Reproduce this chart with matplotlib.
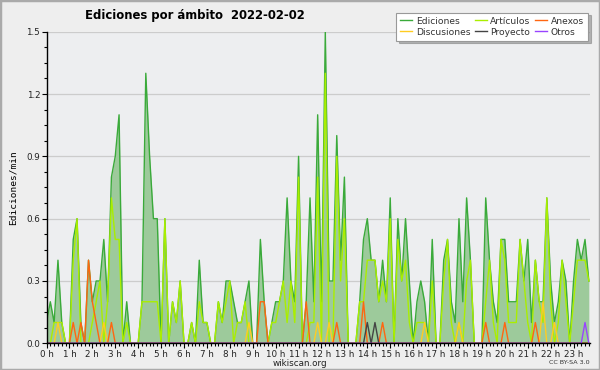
import matplotlib
matplotlib.use("Agg")
import matplotlib.pyplot as plt
from matplotlib.ticker import FixedLocator, MultipleLocator
from matplotlib.patches import Rectangle
import numpy as np

# 10-minute bins over the day (edits per minute)
ediciones = [
    0.1, 0.2, 0.1, 0.4, 0.1, 0.0,
    0.0, 0.5, 0.6, 0.1, 0.0, 0.4,
    0.2, 0.3, 0.3, 0.5, 0.2, 0.8,
    0.9, 1.1, 0.0, 0.2, 0.0, 0.0,
    0.0, 0.2, 1.3, 0.9, 0.6, 0.6,
    0.0, 0.6, 0.0, 0.2, 0.1, 0.3,
    0.0, 0.0, 0.1, 0.0, 0.4, 0.1,
    0.1, 0.0, 0.0, 0.2, 0.1, 0.3,
    0.3, 0.2, 0.1, 0.1, 0.2, 0.3,
    0.0, 0.0, 0.5, 0.2, 0.0, 0.1,
    0.2, 0.2, 0.3, 0.7, 0.3, 0.2,
    0.9, 0.0, 0.2, 0.7, 0.2, 1.1,
    0.2, 1.5, 0.3, 0.3, 1.0, 0.4,
    0.8, 0.0, 0.0, 0.0, 0.2, 0.5,
    0.6, 0.4, 0.4, 0.2, 0.4, 0.2,
    0.7, 0.0, 0.6, 0.3, 0.6, 0.3,
    0.0, 0.2, 0.3, 0.2, 0.0, 0.5,
    0.0, 0.0, 0.4, 0.5, 0.2, 0.1,
    0.6, 0.2, 0.7, 0.4, 0.0, 0.0,
    0.0, 0.7, 0.4, 0.2, 0.1, 0.5,
    0.5, 0.2, 0.2, 0.2, 0.5, 0.3,
    0.5, 0.1, 0.4, 0.2, 0.2, 0.7,
    0.3, 0.1, 0.2, 0.4, 0.3, 0.0,
    0.3, 0.5, 0.4, 0.5, 0.3,
]
articulos = [
    0.0, 0.0, 0.1, 0.1, 0.1, 0.0,
    0.0, 0.4, 0.6, 0.0, 0.0, 0.0,
    0.1, 0.2, 0.3, 0.0, 0.2, 0.7,
    0.5, 0.5, 0.0, 0.1, 0.0, 0.0,
    0.0, 0.2, 0.2, 0.2, 0.2, 0.2,
    0.0, 0.6, 0.0, 0.2, 0.1, 0.3,
    0.0, 0.0, 0.1, 0.0, 0.2, 0.1,
    0.1, 0.0, 0.0, 0.2, 0.1, 0.2,
    0.3, 0.0, 0.1, 0.1, 0.2, 0.0,
    0.0, 0.0, 0.0, 0.0, 0.0, 0.1,
    0.1, 0.2, 0.3, 0.1, 0.3, 0.1,
    0.8, 0.0, 0.0, 0.1, 0.1, 0.8,
    0.0, 1.3, 0.0, 0.0, 0.9, 0.3,
    0.6, 0.0, 0.0, 0.0, 0.2, 0.2,
    0.4, 0.4, 0.4, 0.2, 0.3, 0.2,
    0.6, 0.0, 0.5, 0.3, 0.4, 0.1,
    0.0, 0.1, 0.1, 0.1, 0.0, 0.3,
    0.0, 0.0, 0.3, 0.5, 0.1, 0.0,
    0.1, 0.0, 0.3, 0.4, 0.0, 0.0,
    0.0, 0.2, 0.4, 0.1, 0.0, 0.5,
    0.4, 0.1, 0.1, 0.1, 0.5, 0.3,
    0.1, 0.0, 0.4, 0.2, 0.1, 0.7,
    0.2, 0.0, 0.1, 0.4, 0.2, 0.0,
    0.2, 0.4, 0.4, 0.4, 0.3,
]
anexos = [
    0.0, 0.0, 0.0, 0.0, 0.0, 0.0,
    0.0, 0.1, 0.0, 0.1, 0.0, 0.4,
    0.2, 0.1, 0.0, 0.0, 0.0, 0.1,
    0.0, 0.0, 0.0, 0.0, 0.0, 0.0,
    0.0, 0.0, 0.0, 0.0, 0.0, 0.0,
    0.0, 0.0, 0.0, 0.0, 0.0, 0.0,
    0.0, 0.0, 0.0, 0.0, 0.0, 0.0,
    0.0, 0.0, 0.0, 0.0, 0.0, 0.0,
    0.0, 0.0, 0.0, 0.0, 0.0, 0.0,
    0.0, 0.0, 0.2, 0.2, 0.0, 0.0,
    0.0, 0.0, 0.0, 0.0, 0.0, 0.0,
    0.0, 0.0, 0.2, 0.0, 0.0, 0.0,
    0.0, 0.0, 0.0, 0.0, 0.1, 0.0,
    0.0, 0.0, 0.0, 0.0, 0.0, 0.2,
    0.0, 0.0, 0.0, 0.0, 0.1, 0.0,
    0.0, 0.0, 0.0, 0.0, 0.0, 0.0,
    0.0, 0.0, 0.0, 0.0, 0.0, 0.0,
    0.0, 0.0, 0.0, 0.0, 0.0, 0.0,
    0.0, 0.0, 0.0, 0.0, 0.0, 0.0,
    0.0, 0.1, 0.0, 0.0, 0.0, 0.0,
    0.1, 0.0, 0.0, 0.0, 0.0, 0.0,
    0.0, 0.0, 0.1, 0.0, 0.0, 0.0,
    0.0, 0.0, 0.0, 0.0, 0.0, 0.0,
    0.0, 0.0, 0.0, 0.0, 0.0,
]
discusiones = [
    0.0, 0.0, 0.0, 0.1, 0.0, 0.0,
    0.0, 0.0, 0.0, 0.0, 0.0, 0.0,
    0.0, 0.0, 0.0, 0.1, 0.0, 0.0,
    0.0, 0.0, 0.0, 0.0, 0.0, 0.0,
    0.0, 0.0, 0.0, 0.0, 0.0, 0.0,
    0.0, 0.0, 0.0, 0.0, 0.0, 0.0,
    0.0, 0.0, 0.0, 0.0, 0.0, 0.0,
    0.0, 0.0, 0.0, 0.0, 0.0, 0.0,
    0.0, 0.0, 0.0, 0.0, 0.0, 0.1,
    0.0, 0.0, 0.0, 0.0, 0.0, 0.0,
    0.0, 0.0, 0.0, 0.0, 0.0, 0.0,
    0.0, 0.0, 0.0, 0.0, 0.0, 0.1,
    0.0, 0.0, 0.1, 0.0, 0.0, 0.0,
    0.0, 0.0, 0.0, 0.0, 0.0, 0.0,
    0.0, 0.0, 0.0, 0.0, 0.0, 0.0,
    0.0, 0.0, 0.0, 0.0, 0.0, 0.0,
    0.0, 0.0, 0.0, 0.1, 0.0, 0.0,
    0.0, 0.0, 0.0, 0.0, 0.0, 0.0,
    0.1, 0.0, 0.0, 0.0, 0.0, 0.0,
    0.0, 0.0, 0.0, 0.0, 0.0, 0.0,
    0.0, 0.0, 0.0, 0.0, 0.0, 0.0,
    0.0, 0.0, 0.0, 0.0, 0.2, 0.0,
    0.0, 0.1, 0.0, 0.0, 0.0, 0.0,
    0.0, 0.0, 0.0, 0.0, 0.0,
]
proyecto = [0.0] * 84 + [0.1, 0.0, 0.1] + [0.0] * 56
otros = [0.0] * 141 + [0.1, 0.0]

hour_labels = [f"{h} h" for h in range(24)]
title_text = "Ediciones por ámbito  2022-02-02"

fig = plt.figure(figsize=(6, 3.7), dpi=100, facecolor="#eeeeee")
ax = fig.add_axes([0.0775, 0.0722, 0.9058, 0.8421], facecolor="#edeef0")

x = np.arange(len(ediciones))
ax.fill_between(x, 0, ediciones, color="#9dca9b", lw=0, zorder=2)
l_ed, = ax.plot(x, ediciones, color="#3aaa3a", lw=1.0, zorder=3, label="Ediciones")
l_ar, = ax.plot(x, articulos, color="#aaee00", lw=1.0, zorder=4, label="Artículos")
l_di, = ax.plot(x, discusiones, color="#ffcc22", lw=1.0, zorder=5, label="Discusiones")
l_an, = ax.plot(x, anexos, color="#ff6611", lw=1.0, zorder=6, label="Anexos")
l_pr, = ax.plot(x, proyecto, color="#444444", lw=1.0, zorder=7, label="Proyecto")
l_ot, = ax.plot(x, otros, color="#9944ff", lw=1.0, zorder=8, label="Otros")

ax.set_xlim(0, 142.3)
ax.set_ylim(0, 1.5)
ax.xaxis.set_major_locator(FixedLocator([6 * h for h in range(24)]))
ax.set_xticklabels(hour_labels)
ax.xaxis.set_minor_locator(MultipleLocator(1))
ax.yaxis.set_major_locator(MultipleLocator(0.3))
ax.yaxis.set_minor_locator(MultipleLocator(0.075))
ax.yaxis.set_major_formatter(matplotlib.ticker.FormatStrFormatter("%.1f"))
ax.grid(axis="y", which="major", color="#cccccc", lw=0.9, zorder=1)
ax.set_axisbelow(True)

for s in ["top", "right"]:
    ax.spines[s].set_visible(False)
for s in ["left", "bottom"]:
    ax.spines[s].set_color("black")
    ax.spines[s].set_linewidth(1.0)
    ax.spines[s].set_zorder(10)

ax.tick_params(axis="both", which="major", direction="out", length=3.5, width=0.8,
               labelsize=6.3, pad=1.0, colors="black", labelcolor="#222222")
ax.tick_params(axis="both", which="minor", direction="out", length=2.5, width=0.8)

ax.set_ylabel("Ediciones/min", family="DejaVu Sans Mono", fontsize=6.8, labelpad=6)

fig.text(0.325, 0.957, title_text, ha="center", va="center", fontsize=8.4,
         fontweight="bold", family=["DejaVu Sans Condensed", "Liberation Sans Narrow", "DejaVu Sans"])
fig.text(0.5, 0.017, "wikiscan.org", ha="center", va="center", fontsize=6.3, color="#222222")
fig.text(0.983, 0.019, "CC BY-SA 3.0", ha="right", va="center", fontsize=4.6, color="#333333")

leg = fig.legend(handles=[l_ed, l_di, l_ar, l_pr, l_an, l_ot], ncol=3,
                 loc="upper right", bbox_to_anchor=(0.98, 0.966),
                 fontsize=6.6, frameon=True, fancybox=False, shadow={"color": "#777777"},
                 edgecolor="#999999", facecolor="white", handlelength=1.3,
                 handletextpad=0.4, columnspacing=0.5, labelspacing=0.2,
                 borderpad=0.45, borderaxespad=0.0)
leg.get_frame().set_linewidth(0.8)
for t in leg.get_texts():
    t.set_color("#333333")

fig.patches.append(Rectangle((0, 0), 1, 1, transform=fig.transFigure, fill=False,
                             edgecolor="#aaaaaa", lw=2.5, zorder=20))

fig.savefig("out.png", dpi=100, facecolor=fig.get_facecolor())
